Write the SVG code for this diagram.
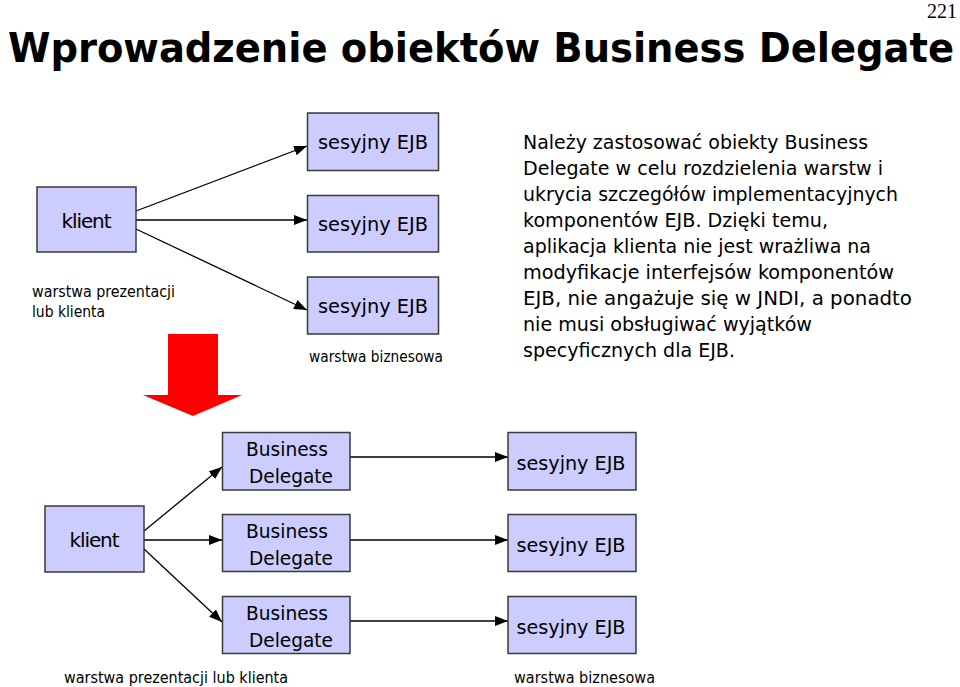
<svg xmlns="http://www.w3.org/2000/svg" width="960" height="687" viewBox="0 0 960 687">
<style>
.box{fill:#ccccff;stroke:#3a3a3a;stroke-width:1.5}
.t{font-family:"DejaVu Sans","Liberation Sans",sans-serif;font-size:20px;fill:#000}
.c{text-anchor:middle}
.s{font-family:"DejaVu Sans","Liberation Sans",sans-serif;font-size:16px;fill:#000}
.ln{stroke:#000;stroke-width:1.3;fill:none;marker-end:url(#ah)}
</style>
<defs>
<marker id="ah" markerUnits="userSpaceOnUse" markerWidth="14" markerHeight="10" refX="13" refY="5" orient="auto">
<path d="M0,0 L13,5 L0,10 Z" fill="#000"/>
</marker>
</defs>
<rect width="960" height="687" fill="#fff"/>
<text x="957" y="18" text-anchor="end" font-family="Liberation Serif,serif" font-size="20">221</text>
<text x="8" y="62" font-family="DejaVu Sans Condensed,DejaVu Sans,Liberation Sans,sans-serif" font-weight="bold" font-size="41" textLength="946" lengthAdjust="spacingAndGlyphs">Wprowadzenie obiektów Business Delegate</text>

<g id="paragraph" class="t">
<text x="523" y="149" textLength="345" lengthAdjust="spacingAndGlyphs">Należy zastosować obiekty Business</text>
<text x="523" y="175" textLength="360" lengthAdjust="spacingAndGlyphs">Delegate w celu rozdzielenia warstw i</text>
<text x="523" y="201" textLength="375" lengthAdjust="spacingAndGlyphs">ukrycia szczegółów implementacyjnych</text>
<text x="523" y="227" textLength="305" lengthAdjust="spacingAndGlyphs">komponentów EJB. Dzięki temu,</text>
<text x="523" y="253" textLength="348" lengthAdjust="spacingAndGlyphs">aplikacja klienta nie jest wrażliwa na</text>
<text x="523" y="279" textLength="371" lengthAdjust="spacingAndGlyphs">modyfikacje interfejsów komponentów</text>
<text x="523" y="305" textLength="389" lengthAdjust="spacingAndGlyphs">EJB, nie angażuje się w JNDI, a ponadto</text>
<text x="523" y="331" textLength="289" lengthAdjust="spacingAndGlyphs">nie musi obsługiwać wyjątków</text>
<text x="523" y="357" textLength="212" lengthAdjust="spacingAndGlyphs">specyficznych dla EJB.</text>
</g>

<g id="connectors">
<line class="ln" x1="136" y1="211" x2="307" y2="146"/>
<line class="ln" x1="136" y1="220" x2="307" y2="220"/>
<line class="ln" x1="136" y1="229" x2="307" y2="310"/>
<line class="ln" x1="144" y1="531" x2="222" y2="467"/>
<line class="ln" x1="144" y1="540" x2="222" y2="540"/>
<line class="ln" x1="144" y1="549" x2="222" y2="622"/>
<line class="ln" x1="350" y1="457" x2="508" y2="457"/>
<line class="ln" x1="350" y1="540" x2="508" y2="540"/>
<line class="ln" x1="350" y1="621" x2="508" y2="621"/>
</g>

<g id="top-klient"><rect class="box" x="37" y="187" width="99" height="65"/><text class="t c" x="86.5" y="228" textLength="50">klient</text></g>
<g id="top-ejb1"><rect class="box" x="307.5" y="113" width="131" height="57.5"/><text class="t c" x="373" y="149" textLength="110" lengthAdjust="spacingAndGlyphs">sesyjny EJB</text></g>
<g id="top-ejb2"><rect class="box" x="307.5" y="195.5" width="131" height="56.5"/><text class="t c" x="373" y="231" textLength="110" lengthAdjust="spacingAndGlyphs">sesyjny EJB</text></g>
<g id="top-ejb3"><rect class="box" x="307.5" y="277" width="131" height="57"/><text class="t c" x="373" y="313" textLength="110" lengthAdjust="spacingAndGlyphs">sesyjny EJB</text></g>
<g id="top-labels" class="s">
<text x="32" y="297" textLength="143" lengthAdjust="spacingAndGlyphs">warstwa prezentacji</text>
<text x="32" y="317" textLength="73" lengthAdjust="spacingAndGlyphs">lub klienta</text>
<text x="309" y="362" textLength="134" lengthAdjust="spacingAndGlyphs">warstwa biznesowa</text>
</g>

<g id="red-arrow"><polygon points="168,334 218,334 218,395 242,395 193,416 143,395 168,395" fill="#ff0000"/></g>

<g id="bot-klient"><rect class="box" x="45" y="506" width="99" height="66"/><text class="t c" x="94.5" y="547" textLength="50">klient</text></g>
<g id="bd1"><rect class="box" x="222.5" y="432.5" width="127.5" height="57.5"/><text class="t c" x="287" y="456" textLength="82" lengthAdjust="spacingAndGlyphs">Business</text><text class="t c" x="291" y="483" textLength="84" lengthAdjust="spacingAndGlyphs">Delegate</text></g>
<g id="bd2"><rect class="box" x="222.5" y="514.5" width="127.5" height="57"/><text class="t c" x="287" y="538" textLength="82" lengthAdjust="spacingAndGlyphs">Business</text><text class="t c" x="291" y="565" textLength="84" lengthAdjust="spacingAndGlyphs">Delegate</text></g>
<g id="bd3"><rect class="box" x="222.5" y="596.5" width="127.5" height="57"/><text class="t c" x="287" y="620" textLength="82" lengthAdjust="spacingAndGlyphs">Business</text><text class="t c" x="291" y="647" textLength="84" lengthAdjust="spacingAndGlyphs">Delegate</text></g>
<g id="bot-ejb1"><rect class="box" x="508" y="432.5" width="128" height="57.5"/><text class="t c" x="571" y="470" textLength="109" lengthAdjust="spacingAndGlyphs">sesyjny EJB</text></g>
<g id="bot-ejb2"><rect class="box" x="508" y="514.5" width="128" height="57"/><text class="t c" x="571" y="552" textLength="109" lengthAdjust="spacingAndGlyphs">sesyjny EJB</text></g>
<g id="bot-ejb3"><rect class="box" x="508" y="596.5" width="128" height="57"/><text class="t c" x="571" y="634" textLength="109" lengthAdjust="spacingAndGlyphs">sesyjny EJB</text></g>
<g id="bottom-labels" class="s">
<text x="64" y="683" textLength="224" lengthAdjust="spacingAndGlyphs">warstwa prezentacji lub klienta</text>
<text x="514" y="683" textLength="141" lengthAdjust="spacingAndGlyphs">warstwa biznesowa</text>
</g>
</svg>
